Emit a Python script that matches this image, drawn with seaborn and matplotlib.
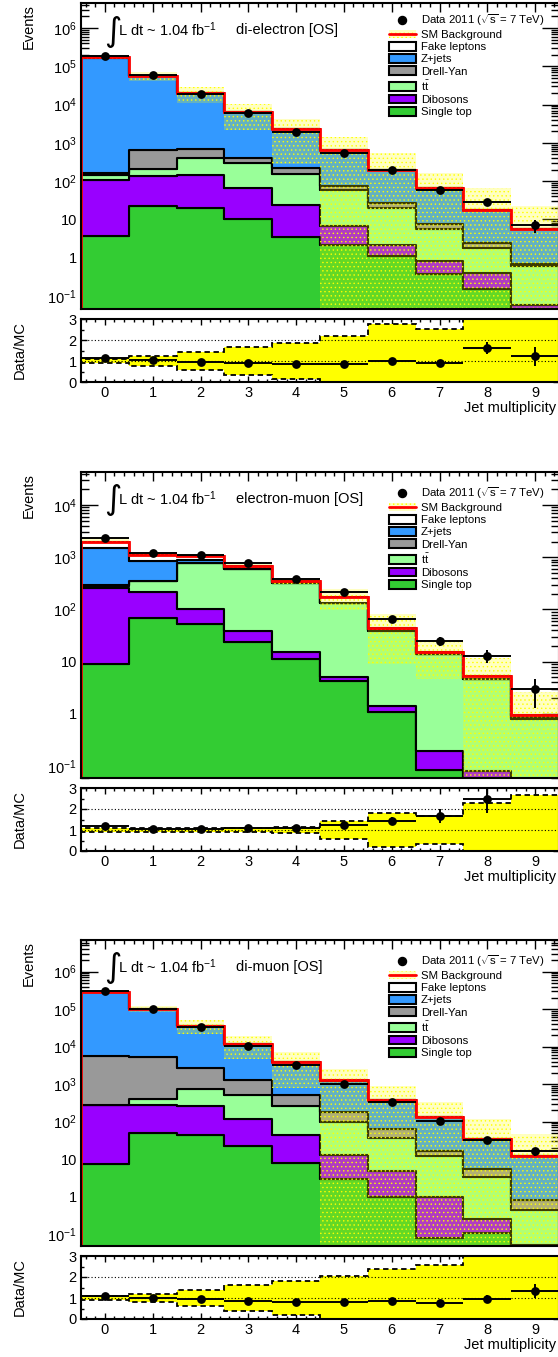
import numpy as np
import pandas as pd
import matplotlib
matplotlib.use("Agg")
import matplotlib.pyplot as plt
import seaborn as sns
from matplotlib.lines import Line2D
from matplotlib.patches import Patch
from matplotlib.ticker import (FixedLocator, MultipleLocator, LogLocator,
                               NullFormatter, FuncFormatter)

# ---------------------------------------------------------------- data
n_jets = [0, 1, 2, 3, 4, 5, 6, 7, 8, 9]
jet_edges = [-0.5, 0.5, 1.5, 2.5, 3.5, 4.5, 5.5, 6.5, 7.5, 8.5, 9.5]
samples = ["Fake leptons", "Z+jets", "Drell-Yan", "ttbar", "Dibosons", "Single top"]
x_ticks = [0, 1, 2, 3, 4, 5, 6, 7, 8, 9]
ratio_ticks = [0, 1, 2, 3]

# di-electron [OS]
ee_fakes = [600, 200, 100, 40, 15, 4, 1.5, 0.5, 0.15, 0.05]
ee_zjets = [169200, 56130, 19200, 5960, 2061, 562, 166, 59, 15.4, 5.0]
ee_drellyan = [18, 456, 300, 100, 66, 14, 7, 1.9, 0.6, 0.07]
ee_ttbar = [38, 74, 257, 233, 134, 53, 17.8, 4.7, 1.4, 0.54]
ee_dibosons = [106, 118, 123, 56, 20.6, 4.6, 1.1, 0.45, 0.26, 0.03]
ee_singletop = [3.6, 22, 20, 10.5, 3.4, 2.2, 1.1, 0.37, 0.15, 0.03]
ee_data = [190400, 58700, 19000, 5890, 1955, 557, 195, 60, 29, 7]
ee_rel_unc = [0.11, 0.26, 0.45, 0.66, 0.88, 1.2, 1.78, 1.52, 2.7, 3.0]

# electron-muon [OS]
em_fakes = [480, 270, 180, 75, 14, 39, 4.6, 0.76, 0.5, 0.05]
em_zjets = [1230, 495, 100, 15, 4, 2, 0.8, 0.2, 0.1, 0.1]
em_drellyan = [7, 2, 10, 5, 1, 1, 0.2, 0.05, 0.02, 0.01]
em_ttbar = [20, 140, 660, 561, 310, 125, 38, 13.8, 4.5, 0.8]
em_dibosons = [254, 147, 47, 15, 4.5, 0.9, 0.3, 0.105, 0.05, 0.005]
em_singletop = [9, 68, 53, 24, 11, 4.2, 1.1, 0.085, 0.03, 0.005]
em_data = [2350, 1200, 1125, 760, 376, 214, 65, 25, 13, 3]
em_rel_unc = [0.1, 0.08, 0.08, 0.09, 0.12, 0.44, 0.8, 0.69, 1.29, 1.65]

# di-muon [OS]
mm_fakes = [1000, 400, 150, 50, 20, 5, 2, 0.6, 0.2, 0.05]
mm_zjets = [273400, 96200, 33110, 10690, 3355, 1059, 316, 114.8, 28.3, 11.15]
mm_drellyan = [5325, 5010, 2020, 760, 268, 86, 25, 4.3, 2.2, 0.36]
mm_ttbar = [5, 110, 463, 383, 213, 87, 32, 11.3, 3.05, 0.39]
mm_dibosons = [263, 229, 212, 95, 36, 10.1, 3.9, 0.92, 0.14, 0.02]
mm_singletop = [7.3, 51, 45, 22, 8, 2.9, 1.0, 0.08, 0.11, 0.03]
mm_data = [310000, 104000, 33500, 10500, 3200, 990, 330, 102, 33, 16]
mm_rel_unc = [0.1, 0.2, 0.4, 0.6, 0.8, 1.04, 1.36, 1.57, 2.5, 3.0]

channels = [
    dict(name="di-electron [OS]",
         comps=[ee_fakes, ee_zjets, ee_drellyan, ee_ttbar, ee_dibosons, ee_singletop],
         data=ee_data, rel=ee_rel_unc, ylim=(0.046, 4.5e6)),
    dict(name="electron-muon [OS]",
         comps=[em_fakes, em_zjets, em_drellyan, em_ttbar, em_dibosons, em_singletop],
         data=em_data, rel=em_rel_unc, ylim=(0.059, 4.3e4)),
    dict(name="di-muon [OS]",
         comps=[mm_fakes, mm_zjets, mm_drellyan, mm_ttbar, mm_dibosons, mm_singletop],
         data=mm_data, rel=mm_rel_unc, ylim=(0.048, 7.0e6)),
]

# ---------------------------------------------------------------- style
sns.set_theme(style="ticks")
plt.rcParams["font.family"] = ["Liberation Sans", "DejaVu Sans"]
plt.rcParams.update({
    "mathtext.fontset": "custom",
    "mathtext.rm": "Liberation Sans",
    "mathtext.it": "Liberation Sans:italic",
    "mathtext.bf": "Liberation Sans:bold",
    "axes.edgecolor": "black",
    "xtick.color": "black",
    "ytick.color": "black",
    "text.color": "black",
    "hatch.linewidth": 0.5,
})

palette = {
    "Fake leptons": "#ffffff",
    "Z+jets": "#3399ff",
    "Drell-Yan": "#999999",
    "ttbar": "#99ff99",
    "Dibosons": "#9900ff",
    "Single top": "#33cc33",
}
legend_names = {
    "Fake leptons": "Fake leptons",
    "Z+jets": "Z+jets",
    "Drell-Yan": "Drell-Yan",
    "ttbar": r"t$\bar{\mathrm{t}}$",
    "Dibosons": "Dibosons",
    "Single top": "Single top",
}
band_face = (1.0, 1.0, 0.0, 0.24)
band_hatch = "...."

W, H = 558, 1357
fig = plt.figure(figsize=(W / 100, H / 100), dpi=100)


def px_axes(left, top, right, bottom):
    return fig.add_axes([left / W, 1 - bottom / H, (right - left) / W, (bottom - top) / H])


def log_label(v, pos):
    e = int(round(np.log10(v)))
    if e == 0:
        return "1"
    if e == 1:
        return "10"
    return r"$10^{%d}$" % e


edges = np.array(jet_edges)
jets = np.array(n_jets)
panel_tops = [3, 472, 940]
legend_tops = [9, 13, 13]

for ch, top, ltop in zip(channels, panel_tops, legend_tops):
    comps = [np.array(c, dtype=float) for c in ch["comps"]]
    total = np.sum(comps, axis=0)
    data = np.array(ch["data"], dtype=float)
    rel = np.array(ch["rel"], dtype=float)

    ax = px_axes(81, top, 559, top + 306)
    rax = px_axes(81, top + 316, 559, top + 379)

    # stacked background histogram
    rows = []
    for name, vals in zip(samples, comps):
        for j, v in zip(jets, vals):
            rows.append((j, v, name))
    df = pd.DataFrame(rows, columns=["njet", "events", "sample"])
    sns.histplot(data=df, x="njet", weights="events", hue="sample",
                 hue_order=samples, palette=palette, multiple="stack",
                 bins=jet_edges, element="step", fill=True, alpha=1,
                 edgecolor="black", linewidth=1.5, legend=False, ax=ax,
                 zorder=1)
    ax.set_yscale("log")

    # systematic band
    lo = np.clip(total * (1 - rel), 1e-4, None)
    hi = total * (1 + rel)
    ax.fill_between(edges, np.append(lo, lo[-1]), np.append(hi, hi[-1]),
                    step="post", facecolor=band_face, edgecolor="none",
                    linewidth=0, zorder=2)
    ax.fill_between(edges, np.append(lo, lo[-1]), np.append(hi, hi[-1]),
                    step="post", facecolor="none", edgecolor="#ffff00",
                    hatch=band_hatch, linewidth=0, zorder=2)

    ax.stairs(total, edges, color="red", linewidth=2.0, zorder=3)

    # data points
    ax.errorbar(jets, data, yerr=np.sqrt(data), xerr=0.5, fmt="none",
                ecolor="black", elinewidth=1.4, capsize=0, zorder=4)
    sns.scatterplot(x=jets, y=data, color="black", s=40, edgecolor="black",
                    linewidth=0, ax=ax, zorder=5, legend=False)

    ax.set_xlim(-0.5, 9.5)
    ax.set_ylim(*ch["ylim"])
    ax.set_xlabel("")
    ax.set_ylabel("")
    ax.xaxis.set_major_locator(FixedLocator(x_ticks))
    ax.xaxis.set_minor_locator(MultipleLocator(0.2))
    ax.yaxis.set_major_locator(LogLocator(base=10, numticks=20))
    ax.yaxis.set_minor_locator(LogLocator(base=10, subs=np.arange(2, 10), numticks=50))
    ax.yaxis.set_major_formatter(FuncFormatter(log_label))
    ax.yaxis.set_minor_formatter(NullFormatter())
    ax.tick_params(which="both", direction="in", top=True, right=True,
                   labelbottom=False, width=1.0)
    ax.tick_params(axis="y", which="major", length=12.5, labelsize=10.5, pad=3)
    ax.tick_params(axis="y", which="minor", length=5.5)
    ax.tick_params(axis="x", which="major", length=6.5)
    ax.tick_params(axis="x", which="minor", length=3.2)
    for s in ax.spines.values():
        s.set_linewidth(1.5)
        s.set_zorder(6)

    # ratio panel
    r = data / total
    rerr = np.sqrt(data) / total
    shown = r <= 3.0
    up = 1 + rel
    dn = 1 - rel
    rax.fill_between(edges, np.append(dn, dn[-1]), np.append(up, up[-1]),
                     step="post", color="#ffff00", linewidth=0, zorder=1)
    rax.stairs(up, edges, color="black", linestyle=(0, (3, 2)), linewidth=1.3, zorder=2)
    rax.stairs(dn, edges, color="black", linestyle=(0, (3, 2)), linewidth=1.3, zorder=2)
    for yl in (1, 2):
        rax.axhline(yl, color="black", linestyle=(0, (1, 2)), linewidth=0.8, zorder=3)
    rax.errorbar(jets[shown], r[shown], yerr=rerr[shown], xerr=0.5, fmt="none",
                 ecolor="black", elinewidth=1.4, capsize=0, zorder=4)
    sns.scatterplot(x=jets[shown], y=r[shown], color="black", s=40, linewidth=0,
                    ax=rax, zorder=5, legend=False)
    rax.set_xlim(-0.5, 9.5)
    rax.set_ylim(0, 3)
    rax.set_xlabel("")
    rax.set_ylabel("")
    rax.xaxis.set_major_locator(FixedLocator(x_ticks))
    rax.xaxis.set_minor_locator(MultipleLocator(0.2))
    rax.xaxis.set_minor_formatter(NullFormatter())
    rax.yaxis.set_major_locator(FixedLocator(ratio_ticks))
    rax.yaxis.set_minor_locator(FixedLocator([0.5, 1.5, 2.5]))
    rax.yaxis.set_minor_formatter(NullFormatter())
    rax.tick_params(which="both", direction="in", top=True, right=True,
                    labelsize=10.5, width=1.0)
    rax.tick_params(axis="x", which="major", length=4, pad=3)
    rax.tick_params(axis="x", which="minor", length=2)
    rax.tick_params(axis="y", which="major", length=4, pad=3)
    rax.tick_params(axis="y", which="minor", length=2)
    for s in rax.spines.values():
        s.set_linewidth(1.5)
        s.set_zorder(6)

    # axis titles
    fig.text(29 / W, 1 - (top + 1) / H, "Events", rotation=90, ha="center",
             va="top", fontsize=10.5)
    fig.text(20 / W, 1 - (top + 347) / H, "Data/MC", rotation=90, ha="center",
             va="center", fontsize=10.5)
    fig.text(556 / W, 1 - (top + 405) / H, "Jet multiplicity", ha="right",
             va="center", fontsize=10.5)

    # luminosity and channel
    fig.text(113 / W, 1 - (top + 28) / H, "\u222b", ha="center", va="center",
             fontsize=24, family="DejaVu Sans")
    fig.text(118 / W, 1 - (top + 27) / H, r"L dt ~ 1.04 fb$^{-1}$", ha="left",
             va="center", fontsize=10.5)
    fig.text(236 / W, 1 - (top + 27) / H, ch["name"], ha="left", va="center",
             fontsize=10.5)

    # legend
    handles = [
        Line2D([], [], marker="o", color="black", linestyle="none", markersize=5.8),
        (Patch(facecolor=band_face, edgecolor="#ffff00", hatch=band_hatch, linewidth=0),
         Line2D([], [], color="red", linewidth=2.0)),
    ]
    labels = [r"Data 2011 ($\sqrt{\mathrm{s}}$ = 7 TeV)", "SM Background"]
    for name in samples:
        handles.append(Patch(facecolor=palette[name], edgecolor="black", linewidth=1.5))
        labels.append(legend_names[name])
    ax.legend(handles, labels, loc="upper left",
              bbox_to_anchor=(389 / W, 1 - (top + ltop) / H),
              bbox_transform=fig.transFigure, frameon=False, fontsize=8.2,
              handlelength=2.35, handleheight=0.8, handletextpad=0.45,
              labelspacing=0.17, borderpad=0, borderaxespad=0)

fig.savefig("out.png", dpi=100)
